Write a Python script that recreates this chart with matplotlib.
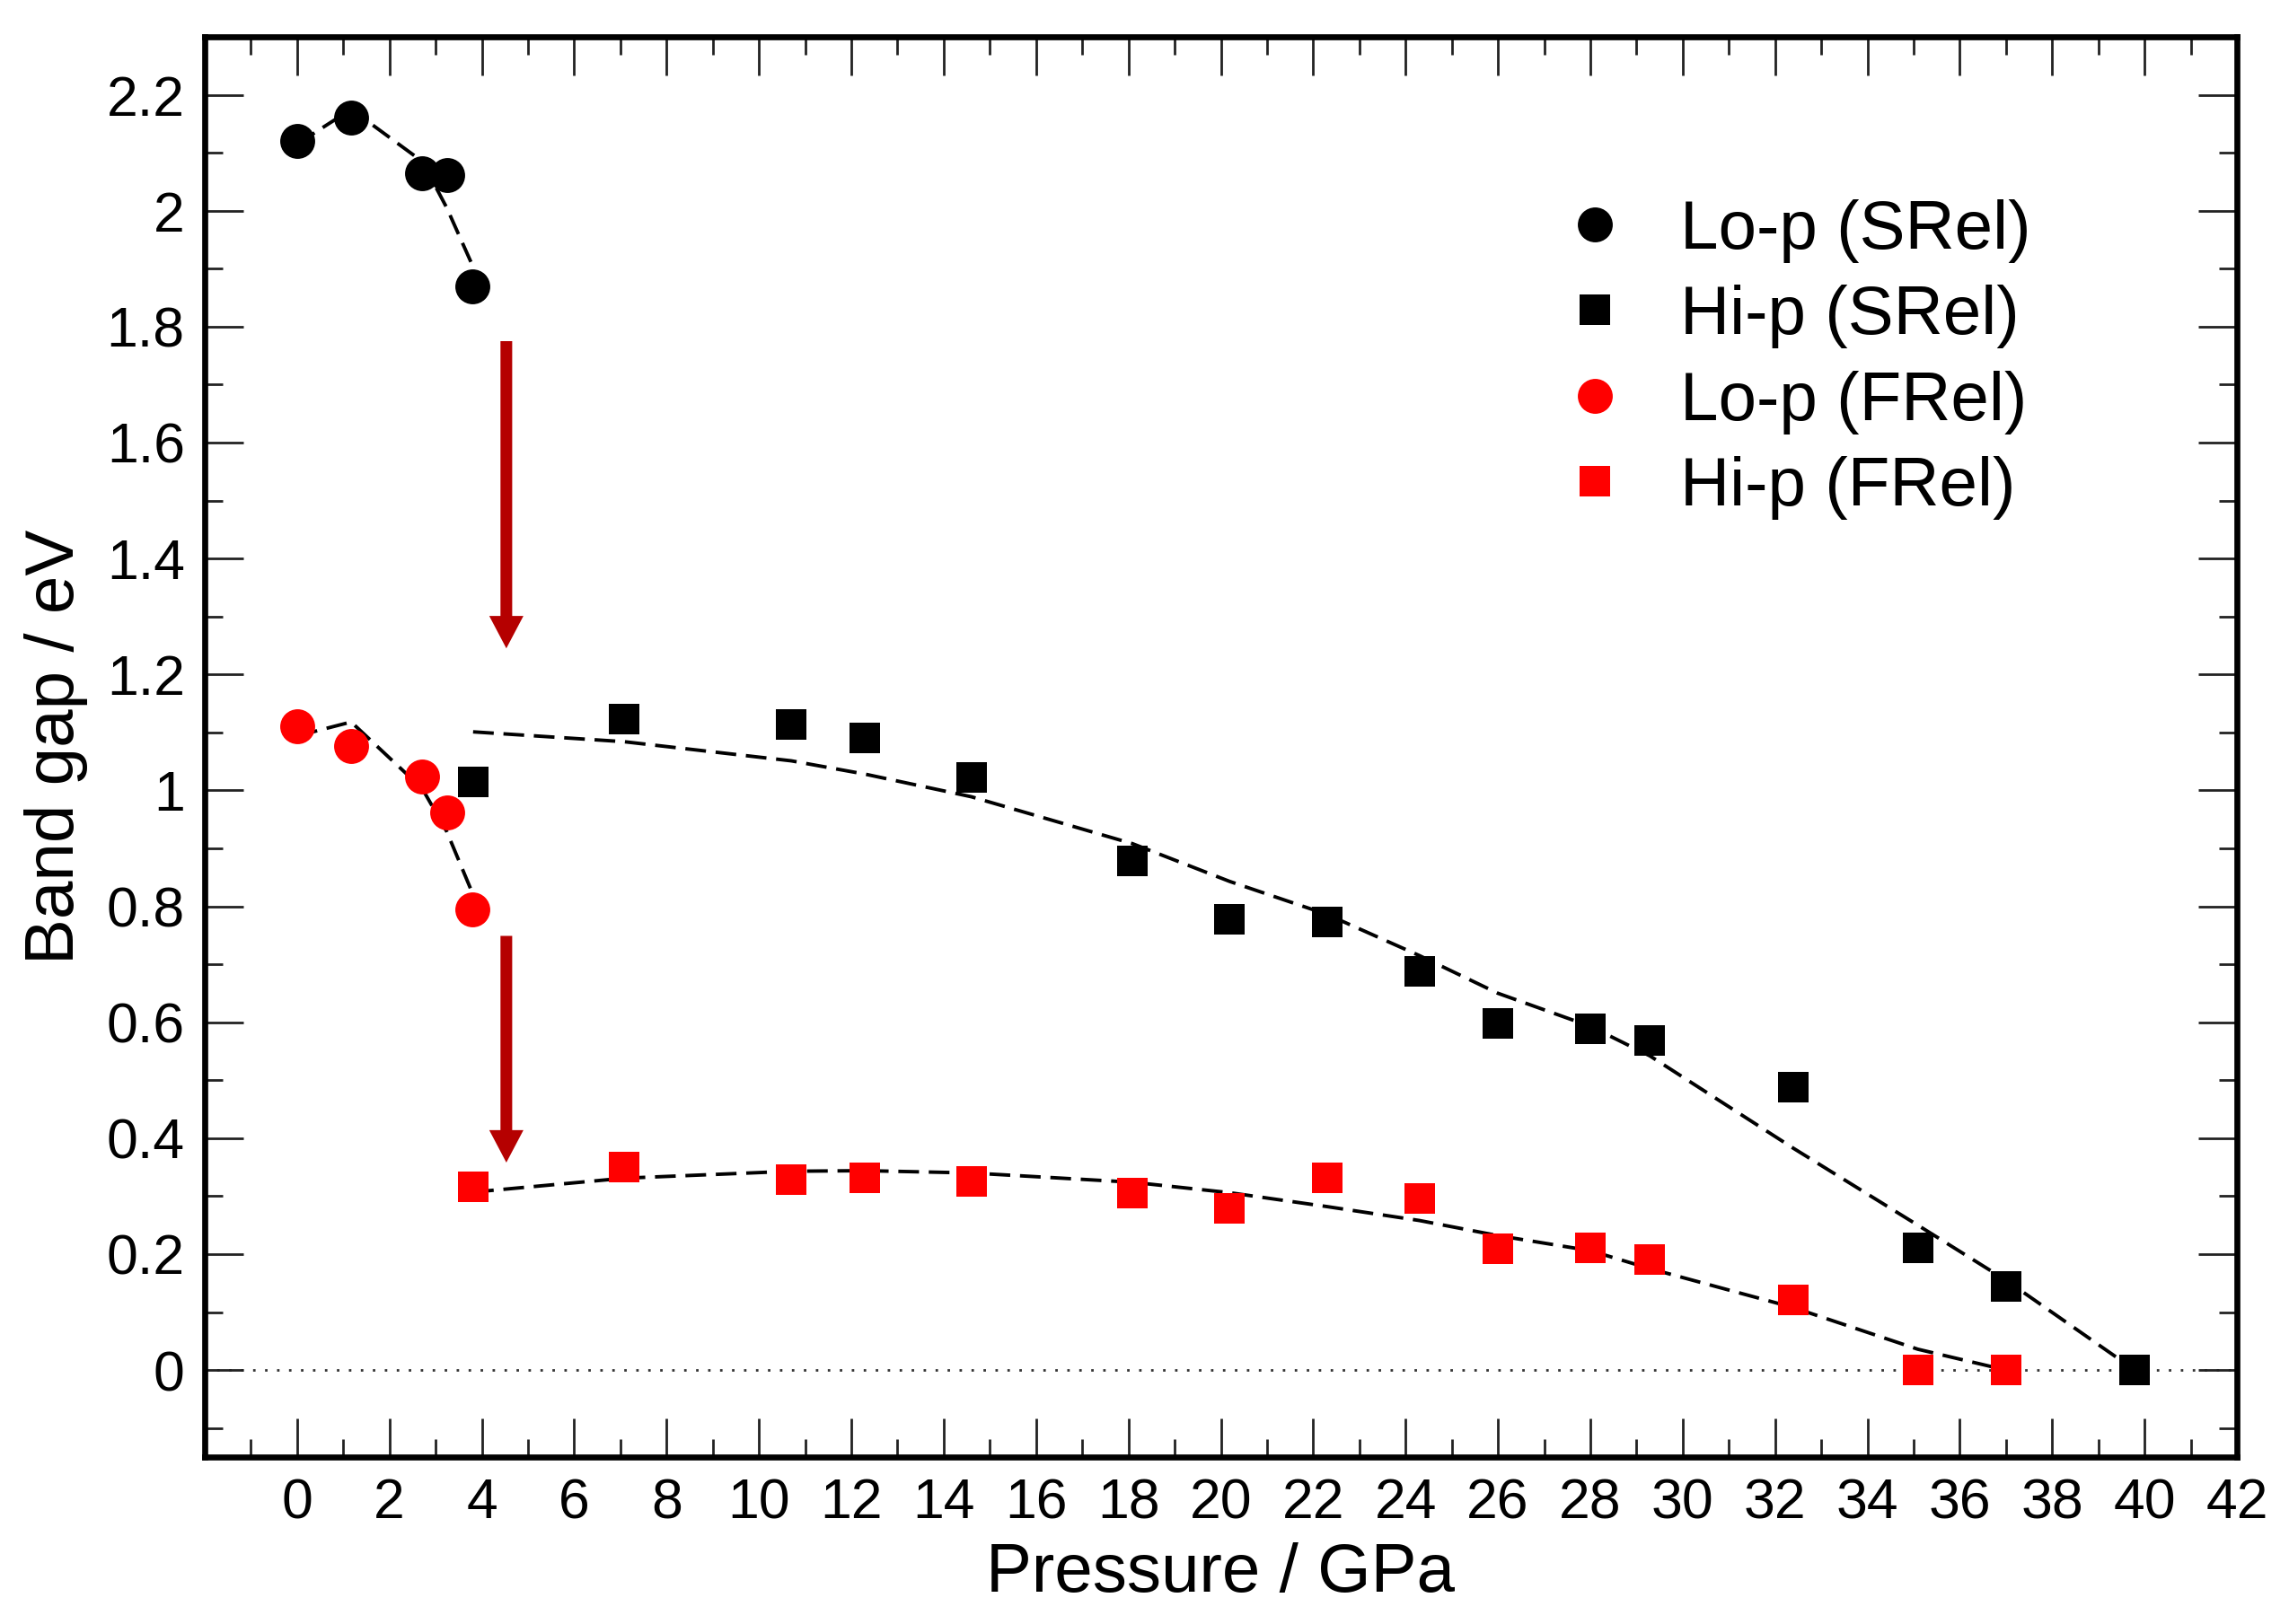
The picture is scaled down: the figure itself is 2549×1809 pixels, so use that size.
import numpy as np
import matplotlib
matplotlib.use('Agg')
import matplotlib.pyplot as plt
from matplotlib.ticker import FixedLocator, FuncFormatter
from matplotlib.lines import Line2D

plt.rcParams['font.family'] = ['Liberation Sans', 'DejaVu Sans']
plt.rcParams['lines.scale_dashes'] = False

# low-pressure phase (GPa / eV)
p_lo = [0.0, 1.17, 2.71, 3.24, 3.80]
gap_lo_srel = [2.120, 2.161, 2.064, 2.061, 1.870]
fit_lo_srel = [2.115, 2.175, 2.085, 2.005, 1.905]
gap_lo_frel = [1.111, 1.077, 1.024, 0.962, 0.795]
fit_lo_frel = [1.094, 1.118, 1.003, 0.929, 0.822]

# high-pressure phase
p_hi = [3.81, 7.08, 10.70, 12.30, 14.60, 18.09, 20.19, 22.30, 24.30,
        26.00, 28.00, 29.29, 32.39, 35.09, 37.00, 39.79]
gap_hi_srel = [1.014, 1.123, 1.113, 1.091, 1.022, 0.878, 0.778, 0.773, 0.688,
               0.598, 0.588, 0.568, 0.488, 0.211, 0.144, 0.0]
fit_hi_srel = [1.101, 1.084, 1.051, 1.028, 0.989, 0.908, 0.843, 0.786, 0.715,
               0.650, 0.593, 0.542, 0.383, 0.250, 0.155, 0.0]
p_hi_fr = p_hi[:15]
gap_hi_frel = [0.316, 0.350, 0.328, 0.332, 0.325, 0.306, 0.279, 0.331, 0.296,
               0.209, 0.211, 0.191, 0.121, 0.0, 0.0]
fit_hi_frel = [0.307, 0.331, 0.343, 0.344, 0.340, 0.324, 0.306, 0.282, 0.258,
               0.232, 0.206, 0.175, 0.108, 0.036, 0.0]

# SRel -> FRel shift arrows (x, y_start, y_end)
arrows = [(4.53, 1.775, 1.245), (4.53, 0.749, 0.358)]

labels = ['Lo-p (SRel)', 'Hi-p (SRel)', 'Lo-p (FRel)', 'Hi-p (FRel)']

W, H, DPI = 2549, 1809, 200
fig = plt.figure(figsize=(W / DPI, H / DPI), dpi=DPI)
ax = fig.add_axes([228 / W, 1 - 1623 / H, (2491 - 228) / W, (1623 - 41) / H])

dash = (0, (8.3, 3.9))
ax.axhline(0, color='#333333', lw=1.0, ls=(0, (1, 3.8)), zorder=1)
for px, fy in [(p_lo, fit_lo_srel), (p_lo, fit_lo_frel),
               (p_hi, fit_hi_srel), (p_hi_fr, fit_hi_frel)]:
    ax.plot(px, fy, color='black', lw=1.4, ls=dash, zorder=2)

ax.plot(p_lo, gap_lo_srel, 'o', color='black', ms=14, mew=0, zorder=3)
ax.plot(p_hi, gap_hi_srel, 's', color='black', ms=12.4, mew=0, zorder=3)
ax.plot(p_lo, gap_lo_frel, 'o', color='#ff0000', ms=14, mew=0, zorder=3)
ax.plot(p_hi_fr, gap_hi_frel, 's', color='#ff0000', ms=12.4, mew=0, zorder=3)

for x, y0, y1 in arrows:
    ax.annotate('', xy=(x, y1), xytext=(x, y0),
                arrowprops=dict(facecolor='#b50000', edgecolor='none',
                                width=4.7, headwidth=13.7, headlength=13,
                                shrink=0), zorder=4)

ax.set_xlim(-2, 42)
ax.set_ylim(-0.15, 2.3)

ax.xaxis.set_major_locator(FixedLocator(np.arange(0, 43, 2)))
ax.xaxis.set_minor_locator(FixedLocator(np.arange(-1, 42, 2)))
ax.yaxis.set_major_locator(FixedLocator(np.round(np.arange(0, 2.21, 0.2), 1)))
ax.yaxis.set_minor_locator(FixedLocator(np.round(np.arange(-0.1, 2.31, 0.2), 1)))
ax.yaxis.set_major_formatter(FuncFormatter(lambda v, p: '%g' % v))

ax.tick_params(which='both', direction='in', top=True, right=True,
               width=1.0, color='#222222', labelsize=22.5, pad=8)
ax.tick_params(which='major', length=15.5)
ax.tick_params(which='minor', length=7.2)
for s in ax.spines.values():
    s.set_linewidth(2.4)

ax.set_xlabel('Pressure / GPa', fontsize=27.5, labelpad=5)
ax.set_ylabel('Band gap / eV', fontsize=27.5, labelpad=7.5)

handles = [
    Line2D([], [], ls='none', marker='o', color='black', ms=14, mew=0),
    Line2D([], [], ls='none', marker='s', color='black', ms=12.4, mew=0),
    Line2D([], [], ls='none', marker='o', color='#ff0000', ms=14, mew=0),
    Line2D([], [], ls='none', marker='s', color='#ff0000', ms=12.4, mew=0),
]
ax.legend(handles, labels, loc='center left', bbox_to_anchor=(0.6673, 0.7728),
          frameon=False, fontsize=27.5, handlelength=1.0, handletextpad=0.74,
          labelspacing=0.32, borderpad=0, borderaxespad=0)

fig.savefig('out.png', dpi=DPI)
